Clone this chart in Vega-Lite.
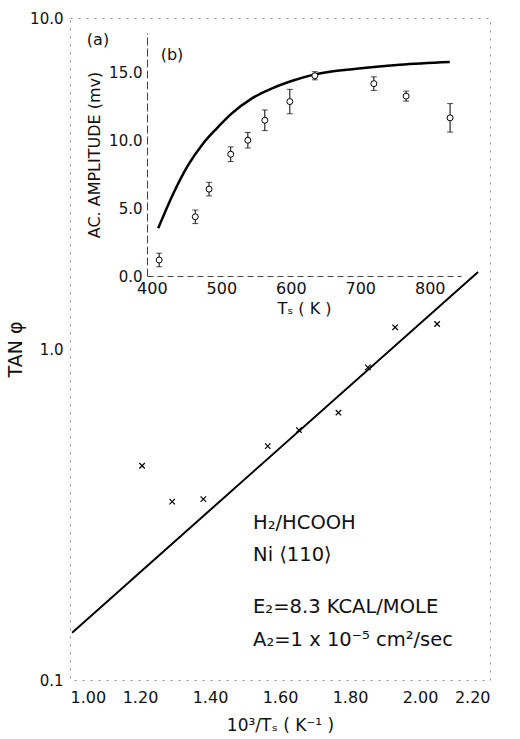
{
  "$schema": "https://vega.github.io/schema/vega-lite/v6.json",
  "width": 420,
  "height": 662,
  "autosize": {"type": "none"},
  "padding": {"left": 70, "top": 18, "right": 30, "bottom": 59},
  "background": "white",
  "config": {
    "view": {"stroke": "#8a8a8a", "strokeDash": [2, 6], "strokeWidth": 1},
    "font": "DejaVu Sans",
    "text": {"font": "DejaVu Sans", "color": "#111"},
    "axis": {"labelFont": "DejaVu Sans", "titleFont": "DejaVu Sans", "labelColor": "#111", "titleColor": "#111", "titleFontWeight": "normal", "grid": false}
  },
  "datasets": {
    "tan": [
      {"x": 1.206, "tan": 0.444},
      {"x": 1.292, "tan": 0.346},
      {"x": 1.381, "tan": 0.352},
      {"x": 1.565, "tan": 0.509},
      {"x": 1.654, "tan": 0.569},
      {"x": 1.767, "tan": 0.642},
      {"x": 1.851, "tan": 0.880},
      {"x": 1.929, "tan": 1.163},
      {"x": 2.049, "tan": 1.190}
    ],
    "fit": [
      {"x": 1.006, "tan": 0.139},
      {"x": 2.166, "tan": 1.71}
    ],
    "amp": [
      {"T": 410.5, "A": 1.18, "lo": 0.68, "hi": 1.68},
      {"T": 462.5, "A": 4.36, "lo": 3.86, "hi": 4.86},
      {"T": 482.3, "A": 6.4, "lo": 5.9, "hi": 6.9},
      {"T": 513.5, "A": 8.97, "lo": 8.43, "hi": 9.51},
      {"T": 538.2, "A": 10.0, "lo": 9.43, "hi": 10.57},
      {"T": 562.6, "A": 11.47, "lo": 10.71, "hi": 12.23},
      {"T": 598.6, "A": 12.85, "lo": 11.95, "hi": 13.75},
      {"T": 634.6, "A": 14.75, "lo": 14.45, "hi": 15.05},
      {"T": 719.5, "A": 14.17, "lo": 13.67, "hi": 14.67},
      {"T": 766.0, "A": 13.25, "lo": 12.88, "hi": 13.62},
      {"T": 829.3, "A": 11.65, "lo": 10.6, "hi": 12.7}
    ],
    "curve": [
      {"T": 409.1, "A": 3.51},
      {"T": 430.6, "A": 6.04},
      {"T": 452.2, "A": 8.16},
      {"T": 473.8, "A": 9.76},
      {"T": 493.1, "A": 10.86},
      {"T": 514.7, "A": 11.96},
      {"T": 543.5, "A": 13.07},
      {"T": 572.2, "A": 13.8},
      {"T": 601.0, "A": 14.36},
      {"T": 634.6, "A": 14.85},
      {"T": 694.6, "A": 15.27},
      {"T": 756.9, "A": 15.56},
      {"T": 828.8, "A": 15.76}
    ]
  },
  "layer": [
    {
      "layer": [
        {
          "data": {"name": "tan"},
          "encoding": {
            "x": {"field": "x", "type": "quantitative",
              "scale": {"domain": [1, 2.2], "nice": false, "zero": false},
              "axis": {"title": "10³/Tₛ ( K⁻¹ )", "values": [1, 1.2, 1.4, 1.6, 1.8, 2, 2.2], "format": ".2f", "domain": false, "ticks": false, "labelFontSize": 16, "labelPadding": 9, "titleFontSize": 17, "titlePadding": 12}},
            "y": {"field": "tan", "type": "quantitative",
              "scale": {"type": "log", "domain": [0.1, 10], "nice": false},
              "axis": {"title": "TAN φ", "values": [0.1, 1, 10], "labelExpr": "datum.value < 0.5 ? '0.1' : format(datum.value, '.1f')", "domain": false, "ticks": false, "labelFontSize": 15, "labelPadding": 7, "titleFontSize": 19, "titlePadding": 4}}
          },
          "layer": [
            {"data": {"name": "fit"}, "mark": {"type": "line", "color": "black", "strokeWidth": 2}},
            {"mark": {"type": "point", "shape": "M-1,-1L1,1M-1,1L1,-1", "filled": false, "stroke": "black", "strokeWidth": 1.2, "size": 30, "opacity": 1}}
          ]
        },
        {"data": {"values": [{"label": "H₂/HCOOH"}]}, "mark": {"type": "text", "align": "left", "baseline": "middle", "fontSize": 19.5}, "encoding": {"text": {"field": "label"}, "x": {"datum": 1.523, "type": "quantitative"}, "y": {"datum": 0.298, "type": "quantitative"}}},
        {"data": {"values": [{"label": "Ni ⟨110⟩"}]}, "mark": {"type": "text", "align": "left", "baseline": "middle", "fontSize": 19.5}, "encoding": {"text": {"field": "label"}, "x": {"datum": 1.523, "type": "quantitative"}, "y": {"datum": 0.239, "type": "quantitative"}}},
        {"data": {"values": [{"label": "E₂=8.3 KCAL/MOLE"}]}, "mark": {"type": "text", "align": "left", "baseline": "middle", "fontSize": 19.5}, "encoding": {"text": {"field": "label"}, "x": {"datum": 1.523, "type": "quantitative"}, "y": {"datum": 0.166, "type": "quantitative"}}},
        {"data": {"values": [{"label": "A₂=1 x 10⁻⁵ cm²/sec"}]}, "mark": {"type": "text", "align": "left", "baseline": "middle", "fontSize": 19.5}, "encoding": {"text": {"field": "label"}, "x": {"datum": 1.523, "type": "quantitative"}, "y": {"datum": 0.132, "type": "quantitative"}}},
        {"data": {"values": [{"label": "(a)"}]}, "mark": {"type": "text", "align": "center", "baseline": "middle", "fontSize": 16}, "encoding": {"text": {"field": "label"}, "x": {"datum": 1.08, "type": "quantitative"}, "y": {"datum": 8.58, "type": "quantitative"}}}
      ]
    },
    {
      "layer": [
        {
          "data": {"name": "amp"},
          "encoding": {
            "x": {"field": "T", "type": "quantitative",
              "scale": {"domain": [393, 845], "range": [77, 391], "nice": false, "zero": false},
              "axis": {"orient": "bottom", "offset": -404, "title": "Tₛ ( K )", "values": [400, 500, 600, 700, 800], "domainColor": "#444", "domainDash": [6, 4], "ticks": false, "labelFontSize": 16, "labelPadding": 4, "titleFontSize": 16, "titlePadding": 4}},
            "y": {"field": "A", "type": "quantitative",
              "scale": {"domain": [0, 17.9], "range": [258, 15], "nice": false},
              "axis": {"orient": "left", "offset": -77, "title": "AC. AMPLITUDE (mv)", "values": [0, 5, 10, 15], "format": ".1f", "domainColor": "#444", "domainDash": [8, 3], "ticks": false, "labelFontSize": 15, "labelPadding": 5, "titleFontSize": 16, "titlePadding": 6}}
          },
          "layer": [
            {"data": {"name": "curve"}, "mark": {"type": "line", "color": "black", "strokeWidth": 2.5, "interpolate": "monotone"}},
            {"mark": {"type": "rule", "color": "black", "strokeWidth": 1}, "encoding": {"y": {"field": "lo", "type": "quantitative"}, "y2": {"field": "hi"}}},
            {"mark": {"type": "tick", "orient": "horizontal", "color": "black", "size": 6, "thickness": 1}, "encoding": {"y": {"field": "lo", "type": "quantitative"}}},
            {"mark": {"type": "tick", "orient": "horizontal", "color": "black", "size": 6, "thickness": 1}, "encoding": {"y": {"field": "hi", "type": "quantitative"}}},
            {"mark": {"type": "point", "shape": "circle", "filled": true, "fill": "white", "stroke": "black", "strokeWidth": 1, "size": 36, "opacity": 1}}
          ]
        },
        {"data": {"values": [{"label": "(b)"}]}, "mark": {"type": "text", "align": "center", "baseline": "middle", "fontSize": 16}, "encoding": {"text": {"field": "label"}, "x": {"datum": 429, "type": "quantitative"}, "y": {"datum": 16.25, "type": "quantitative"}}}
      ]
    }
  ],
  "resolve": {"scale": {"x": "independent", "y": "independent"}, "axis": {"x": "independent", "y": "independent"}}
}
